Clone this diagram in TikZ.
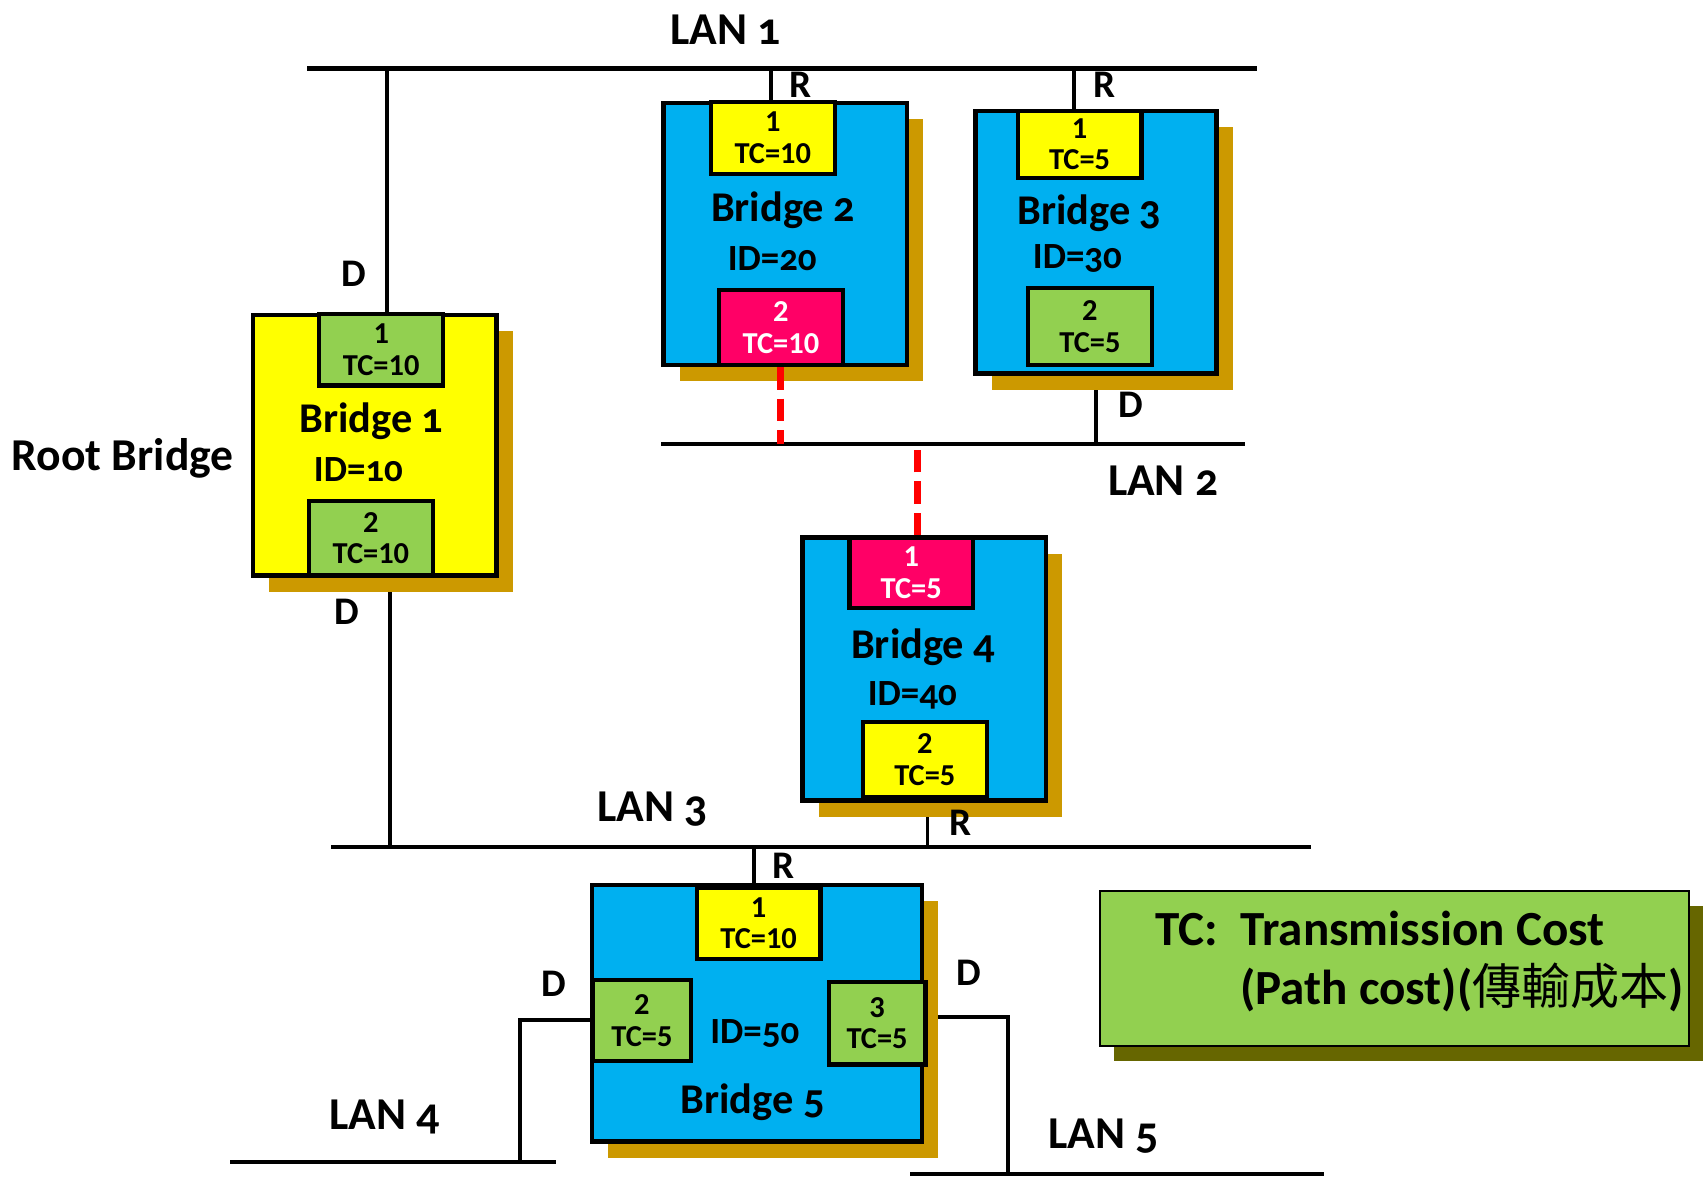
\documentclass[tikz,border=0pt]{standalone}
\usepackage{fontspec}
\setmainfont{Carlito}[Numbers=OldStyle]
\newfontfamily\cjkfont{Noto Sans CJK TC}
\usepackage{tikz}
\usetikzlibrary{shadows, backgrounds}
\definecolor{bridgeBlue}{RGB}{0,176,240}
\definecolor{portYellow}{RGB}{255,255,0}
\definecolor{portGreen}{RGB}{146,208,80}
\definecolor{portPink}{RGB}{255,0,102}
\definecolor{shadowGold}{RGB}{204,153,0}
\definecolor{legendShadow}{RGB}{102,102,0}

\begin{document}
\begin{tikzpicture}[x=0.5pt, y=-0.5pt,
    bridge/.style={rectangle, draw, line width=2pt, inner sep=0pt,
      general shadow={fill=shadowGold, shadow xshift=7.5pt, shadow yshift=-7.5pt}},
    port/.style={rectangle, draw, line width=2pt, inner sep=0pt, align=center,
      minimum width=57pt, minimum height=33pt,
      font=\fontsize{14}{14.5}\selectfont\bfseries\addfontfeatures{Numbers=Lining}},
    brname/.style={font=\fontsize{19.5}{22}\selectfont\bfseries},
    idtext/.style={font=\fontsize{17}{20}\selectfont\bfseries},
    lanlabel/.style={font=\fontsize{21}{24}\selectfont\bfseries},
    portrole/.style={font=\fontsize{18}{22}\selectfont\bfseries},
    wire/.style={line width=2pt},
    link/.style={line width=1.8pt},
    blocked/.style={red, line width=3.3pt, dash pattern=on 10.5pt off 4pt}
]
\useasboundingbox (0,0) rectangle (1568,1084);

% LAN segments
\coordinate (lan1w) at (283,63);   \coordinate (lan1e) at (1157,63);
\coordinate (lan2w) at (609,409);  \coordinate (lan2e) at (1146,409);
\coordinate (lan3w) at (305,780);  \coordinate (lan3e) at (1207,780);
\coordinate (lan4w) at (212,1070); \coordinate (lan4e) at (512,1070);
\coordinate (lan5w) at (838,1081); \coordinate (lan5e) at (1219,1081);
\coordinate (tap4) at (479,1070);
\coordinate (tap5) at (928,1081);
\draw[wire] (lan1w) -- (lan1e);
\draw[wire] (lan2w) -- (lan2e);
\draw[wire] (lan3w) -- (lan3e);
\draw[wire] (lan4w) -- (lan4e);
\draw[wire] (lan5w) -- (lan5e);
\node[lanlabel] (lan1) at (668,27) {LAN 1};
\node[lanlabel] (lan2) at (1071,443) {LAN 2};
\node[lanlabel] (lan3) at (601,745) {LAN 3};
\node[lanlabel] (lan4) at (354,1028) {LAN 4};
\node[lanlabel] (lan5) at (1016,1046) {LAN 5};

% Bridge 1 (root)
\node[bridge, fill=portYellow, minimum width=112pt, minimum height=120pt] (b1) at (345,410) {};
\node[port, fill=portGreen] (p11) at (351,322) {1\\TC=10};
\node[port, fill=portGreen, minimum height=34.5pt] (p12) at (341.5,495.5) {2\\TC=10};
\node[brname] (b1name) at (342,388) {Bridge 1};
\node[idtext] (b1id) at (330,432) {ID=10};
\node[lanlabel] (root) at (113,422) {Root Bridge};

% Bridge 2
\node[bridge, fill=bridgeBlue, minimum width=112pt, minimum height=120.5pt] (b2) at (723,215.5) {};
\node[port, fill=portYellow] (p21) at (711.5,127) {1\\TC=10};
\node[port, fill=portPink, text=white, minimum height=34.5pt] (p22) at (719,301.5) {2\\TC=10};
\node[brname] (b2name) at (721,194) {Bridge 2};
\node[idtext] (b2id) at (711,238) {ID=20};

% Bridge 3
\node[bridge, fill=bridgeBlue, minimum width=111pt, minimum height=121pt] (b3) at (1009,223) {};
\node[port, fill=portYellow, minimum height=31pt] (p31) at (994,133) {1\\TC=5};
\node[port, fill=portGreen, minimum height=35.5pt] (p32) at (1003.5,300.5) {2\\TC=5};
\node[brname] (b3name) at (1003,196) {Bridge 3};
\node[idtext] (b3id) at (992,238) {ID=30};

% Bridge 4
\node[bridge, fill=bridgeBlue, minimum width=112pt, minimum height=121pt] (b4) at (851,616) {};
\node[port, fill=portPink, text=white, minimum height=32.5pt] (p41) at (839,527.5) {1\\TC=5};
\node[port, fill=portYellow, minimum height=34.5pt] (p42) at (851.5,699.5) {2\\TC=5};
\node[brname] (b4name) at (850,596) {Bridge 4};
\node[idtext] (b4id) at (840,640) {ID=40};

% Bridge 5
\node[bridge, fill=bridgeBlue, minimum width=152pt, minimum height=118pt] (b5) at (697,933) {};
\node[port, fill=portYellow] (p51) at (698.5,850) {1\\TC=10};
\node[port, fill=portGreen, minimum width=45pt, minimum height=37.5pt] (p52) at (591,939.5) {2\\TC=5};
\node[port, fill=portGreen, minimum width=44.5pt, minimum height=38pt] (p53) at (807.5,942) {3\\TC=5};
\node[idtext] (b5id) at (695,952) {ID=50};
\node[brname] (b5name) at (693,1015) {Bridge 5};

% port roles
\node[portrole] (r2) at (737,78) {R};
\node[portrole] (r3) at (1017,78) {R};
\node[portrole] (r4) at (884,758) {R};
\node[portrole] (r5) at (721,797) {R};
\node[portrole] (d11) at (326,252) {D};
\node[portrole] (d12) at (319,563) {D};
\node[portrole] (d3) at (1041,373) {D};
\node[portrole] (d52) at (510,906) {D};
\node[portrole] (d53) at (892,896) {D};

% links to the LANs
\begin{scope}[on background layer]
\draw[link] ([xshift=2.5pt]p11.north) -- ([xshift=2.5pt]p11.north |- lan1w);
\draw[link] ([xshift=7pt]b1.south) -- ([xshift=7pt]b1.south |- lan3w);
\draw[link] ([xshift=-1pt]p21.north) -- ([xshift=-1pt]p21.north |- lan1w);
\draw[link] ([xshift=-2.5pt]p31.north) -- ([xshift=-2.5pt]p31.north |- lan1w);
\draw[link] (b3.south) -- (b3.south |- lan2w);
\draw[link] ([xshift=1.5pt]b4.south) -- ([xshift=1.5pt]b4.south |- lan3w);
\draw[link] ([xshift=-2pt]p51.north) -- ([xshift=-2pt]p51.north |- lan3w);
\draw[link] (p52.west) -| (tap4);
\draw[link] ([yshift=3pt]p53.east) -| (tap5);
\end{scope}

% blocked ports
\draw[blocked] (p22.south) -- (p22.south |- lan2w);
\draw[blocked] ([xshift=3pt]p41.north) -- ([xshift=3pt]p41.north |- lan2w);

% legend
\node[rectangle, draw, line width=1pt, fill=portGreen, minimum width=271pt, minimum height=71.5pt,
  general shadow={fill=legendShadow, shadow xshift=6.5pt, shadow yshift=-7pt}] (legend) at (1284,891.5) {};
\node[anchor=west, align=left, font=\fontsize{22.6}{27}\selectfont\bfseries] (legendtext) at (1057,885)
  {TC:\ \ Transmission Cost\\\hspace{39pt}(Path cost)({\cjkfont\mdseries 傳輸成本})};
\end{tikzpicture}
\end{document}
